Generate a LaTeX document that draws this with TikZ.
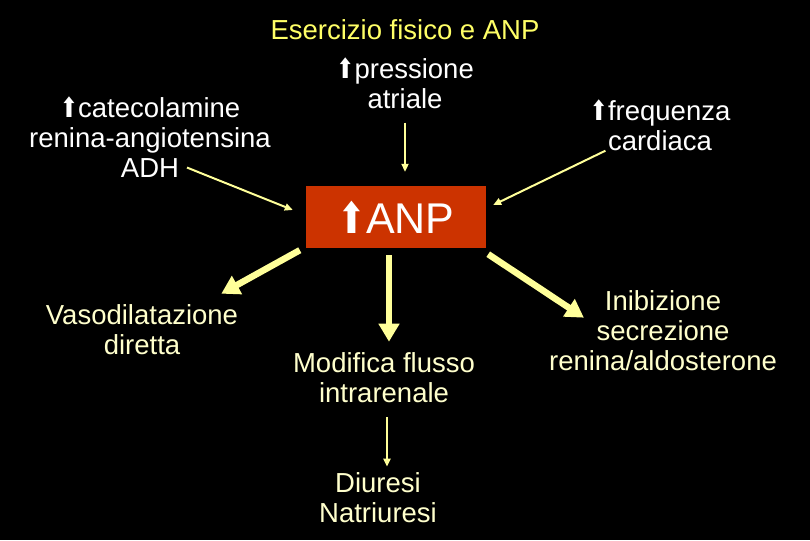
\documentclass[tikz,border=0pt]{standalone}
\usepackage{fontspec}
\setmainfont{Liberation Sans}
\newfontfamily\arrowfont{DejaVu Sans}
\usetikzlibrary{arrows.meta, positioning}
\definecolor{SlideYellow}{HTML}{FFFF66}
\definecolor{PaleYellow}{HTML}{FFFFCC}
\definecolor{ArrowYellow}{HTML}{FFFF99}
\definecolor{BrickRed}{HTML}{CC3300}
\newcommand{\incr}{{\arrowfont\scalebox{0.8}[1]{⬆}}}

\begin{document}
\begin{tikzpicture}[x=1pt, y=-1pt,
      txt/.style={align=center, inner sep=0pt, font=\fontsize{27.5}{30}\selectfont},
      upper/.style={txt, text=white},
      lower/.style={txt, text=PaleYellow},
      anpbox/.style={fill=BrickRed, minimum width=180pt, minimum height=62pt, inner sep=0pt,
                     text=white, font=\fontsize{43}{46}\selectfont},
      thinarrow/.style={-{Triangle[width=7pt,length=8pt]}, ArrowYellow, line width=2pt},
      bigarrow/.style={-{Triangle[width=20pt,length=18pt]}, ArrowYellow, line width=6.5pt}]
      \fill[black] (0,0) rectangle (810,540);
      \useasboundingbox (0,0) rectangle (810,540);
      % Title
      \node[txt, text=SlideYellow] (title) at (405,30) {Esercizio fisico e ANP};
      % Stimuli
      \node[upper] (press) at (405,83)  {\incr pressione\\atriale};
      \node[upper] (cate)  at (150,137) {\incr catecolamine\\renina-angiotensina\\ADH};
      \node[upper] (freq)  at (660,125) {\incr frequenza\\cardiaca};
      % Hormone
      \node[anpbox] (anp) at (396,217) {\incr ANP};
      % Effects
      \node[lower] (vaso)   at (142,330) {Vasodilatazione\\diretta};
      \node[lower] (flusso) at (384,378) {Modifica flusso\\intrarenale};
      \node[lower] (inib)   at (663,331) {Inibizione\\secrezione\\renina/aldosterone};
      \node[lower] (diur)   at (378,498) {Diuresi\\Natriuresi};
      % Arrows into ANP
      \draw[thinarrow] ([shift={(37pt,10pt)}]cate.south) -- ([shift={(-13pt,7pt)}]anp.west);
      \draw[thinarrow, shorten <=14pt, shorten >=14pt] (press.south) -- (press.south |- anp.north);
      \draw[thinarrow] ([shift={(16pt,0pt)}]freq.south west) -- ([shift={(7pt,12pt)}]anp.east);
      % Arrows out of ANP
      \draw[bigarrow] ([shift={(-6pt,-2pt)}]anp.south west) -- ([shift={(-17pt,11pt)}]vaso.north east);
      \draw[bigarrow, shorten <=7pt, shorten >=11pt] ([xshift=-7pt]anp.south) -- ([xshift=-7pt]anp.south |- flusso.north);
      \draw[bigarrow] ([shift={(2pt,-6pt)}]anp.south east) -- ([shift={(35pt,-27pt)}]inib.north west);
      \draw[thinarrow, shorten <=14pt, shorten >=6pt] ([xshift=3pt]flusso.south) -- ([xshift=3pt]flusso.south |- diur.north);
\end{tikzpicture}
\end{document}
